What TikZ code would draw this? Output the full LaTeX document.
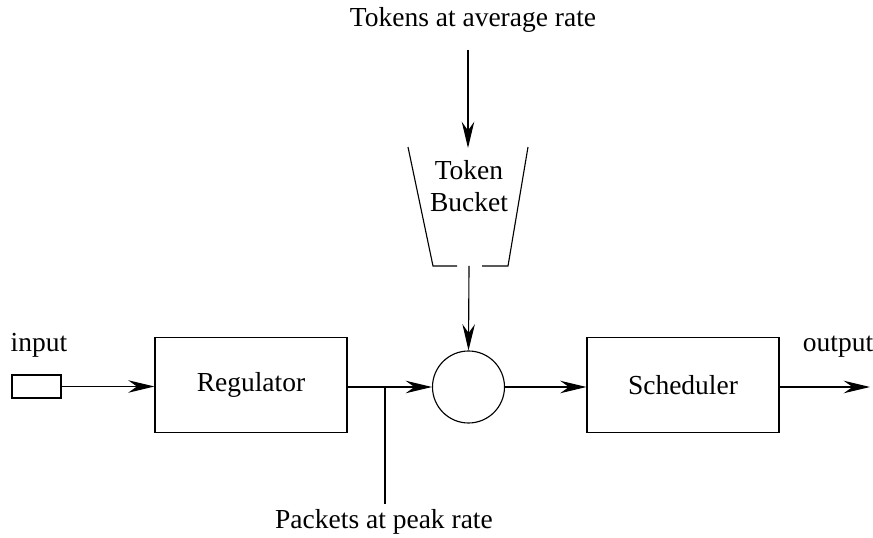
\documentclass[tikz,border=0pt]{standalone}
\usepackage{fontspec}
\setmainfont{Liberation Serif}
\usepackage{tikz}
\usetikzlibrary{arrows.meta}

\tikzset{
    blockbox/.style={draw, minimum width=76.8pt, minimum height=38pt, inner sep=0pt},
    lbl/.style={inner sep=2pt}
}

\begin{document}
\begin{tikzpicture}[x=0.4pt, y=-0.4pt, >={Stealth[length=10.5pt, width=5pt, inset=3.5pt]},
    font=\fontsize{11}{13}\selectfont, line width=0.45pt]
    \useasboundingbox (0,0) rectangle (873,538);

    % --- Token source at the top ---
    \node[lbl] (tokens) at (473,20) {Tokens at average rate};
    \coordinate (tokin) at (468,50);

    % --- Token bucket (open trapezoid) ---
    \draw (408,147) -- (433,266) -- (457,266);
    \draw (482,266) -- (508,266) -- (528,147);
    \node[lbl, align=center] (bucket) at (469,186) {Token\\Bucket};
    \coordinate (bucktop) at (468,148);
    \coordinate (buckout) at (469,266);
    \draw[->] (tokin) -- (bucktop);

    % --- Input, regulator, gate and scheduler ---
    \node[draw, minimum width=19.6pt, minimum height=9.2pt, inner sep=0pt] (in) at (36.5,386.5) {};
    \node[lbl] (inlbl) at (39,345) {input};
    \node[blockbox] (reg) at (251,385) {Regulator};
    \node[draw, circle, minimum size=28.8pt, inner sep=0pt] (gate) at (468.5,387) {};
    \node[blockbox] (sched) at (683,385) {Scheduler};
    \node[lbl] (outlbl) at (838,347) {output};
    \coordinate (outend) at (870,387);

    \draw[->] (in.east) -- (in.east -| reg.west);
    \draw[->] (reg.east |- gate.west) -- (gate.west);
    \draw[->] (buckout) -- (gate.north);
    \draw[->] (gate.east) -- (gate.east -| sched.west);
    \draw[->] (sched.east |- outend) -- (outend);

    % --- Peak rate tap below the regulator output ---
    \coordinate (tap) at (385,387);
    \node[lbl] (peak) at (384,522) {Packets at peak rate};
    \draw (tap) -- (tap |- peak.north);

\end{tikzpicture}
\end{document}
